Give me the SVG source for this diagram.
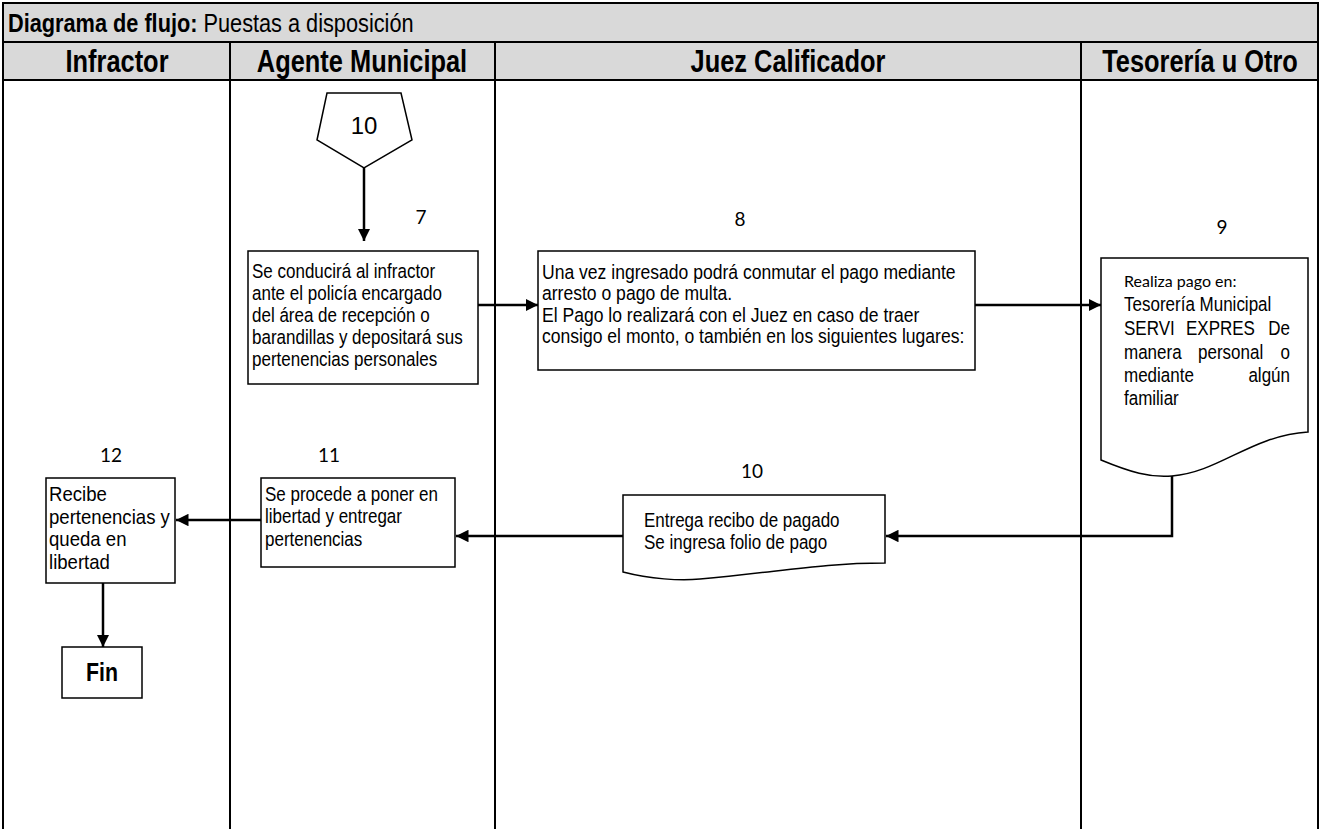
<svg xmlns="http://www.w3.org/2000/svg" width="1320" height="829" viewBox="0 0 1320 829">
<style>
.f{font-family:'Liberation Sans',Arial,sans-serif;fill:#000}
.hdr{font-size:31px;font-weight:bold;text-anchor:middle}
.b{font-size:19.5px}
.num{font-family:Lato,'Open Sans',sans-serif;font-size:19px;text-anchor:middle;fill:#000}
.cal{font-family:Lato,'Open Sans',sans-serif;font-size:16px;fill:#000}
.box{fill:#fff;stroke:#000;stroke-width:1.5}
.con{fill:none;stroke:#000;stroke-width:2.5}
.grid{stroke:#000;stroke-width:2;fill:none}
</style>
<defs>
<marker id="ah" viewBox="0 0 10 10" refX="10" refY="5" markerWidth="5" markerHeight="5" markerUnits="strokeWidth" orient="auto">
<path d="M0,0 L10,5 L0,10 Z" fill="#000"/>
</marker>
</defs>
<rect x="0" y="0" width="1320" height="829" fill="#fff"/>
<g id="frame">
<rect x="3" y="3" width="1315" height="77" fill="#d9d9d9"/>
<path class="grid" d="M3,829 V3 H1318 V829 M3,42 H1318 M3,80 H1318 M230,42 V829 M495,42 V829 M1081,42 V829"/>
<g transform="translate(8,0) scale(0.82,1)"><text class="f" x="0" y="32" font-size="26.5"><tspan font-weight="bold">Diagrama de flujo:</tspan> Puestas a disposición</text></g>
<g transform="translate(117,0) scale(0.82,1)"><text class="f hdr" x="0" y="72">Infractor</text></g>
<g transform="translate(362,0) scale(0.82,1)"><text class="f hdr" x="0" y="72">Agente Municipal</text></g>
<g transform="translate(788,0) scale(0.82,1)"><text class="f hdr" x="0" y="72">Juez Calificador</text></g>
<g transform="translate(1200,0) scale(0.82,1)"><text class="f hdr" x="0" y="72">Tesorería u Otro</text></g>
</g>
<g id="connectors">
<path class="con" d="M364,168 V241" marker-end="url(#ah)"/>
<path class="con" d="M478,305 H538" marker-end="url(#ah)"/>
<path class="con" d="M975,305 H1101" marker-end="url(#ah)"/>
<path class="con" d="M1172,470 V536 H886" marker-end="url(#ah)"/>
<path class="con" d="M623,536 H456" marker-end="url(#ah)"/>
<path class="con" d="M261,520 H176" marker-end="url(#ah)"/>
<path class="con" d="M103,583 V647" marker-end="url(#ah)"/>
</g>
<g id="n10start">
<polygon class="box" points="327,93 401,93 412,140 364,168 317,140"/>
<text class="f" x="364" y="134" style="font-size:24px;text-anchor:middle">10</text>
</g>
<g id="n7">
<text class="num" x="421" y="224">7</text>
<rect class="box" x="248" y="251" width="230" height="133"/>
<g transform="translate(252,0) scale(0.872,1)"><text class="f b"><tspan x="0" y="278">Se conducirá al infractor</tspan><tspan x="0" y="300">ante el policía encargado</tspan><tspan x="0" y="322">del área de recepción o</tspan><tspan x="0" y="344">barandillas y depositará sus</tspan><tspan x="0" y="366">pertenencias personales</tspan></text></g>
</g>
<g id="n8">
<text class="num" x="740" y="226">8</text>
<rect class="box" x="538" y="251" width="437" height="119"/>
<g transform="translate(542,0) scale(0.9,1)"><text class="f b"><tspan x="0" y="279">Una vez ingresado podrá conmutar el pago mediante</tspan><tspan x="0" y="300">arresto o pago de multa.</tspan><tspan x="0" y="322">El Pago lo realizará con el Juez en caso de traer</tspan><tspan x="0" y="343">consigo el monto, o también en los siguientes lugares:</tspan></text></g>
</g>
<g id="n9">
<text class="num" x="1222" y="234">9</text>
<path class="box" d="M1101,460 V258 H1308 V432 C1250,436 1220,472 1172,476 C1150,478 1130,472 1101,460 Z"/>
<text class="cal" x="1124" y="287">Realiza pago en:</text>
<g transform="translate(1124,0) scale(0.872,1)"><text class="f b" x="0" y="311">Tesorería Municipal</text></g>
<g transform="translate(1124,0) scale(0.872,1)"><text class="f b" x="0" y="335">SERVI</text></g>
<g transform="translate(1186,0) scale(0.872,1)"><text class="f b" x="0" y="335">EXPRES</text></g>
<g transform="translate(1290,0) scale(0.872,1)"><text class="f b" x="0" y="335" text-anchor="end">De</text></g>
<g transform="translate(1124,0) scale(0.872,1)"><text class="f b" x="0" y="359">manera</text></g>
<g transform="translate(1198,0) scale(0.872,1)"><text class="f b" x="0" y="359">personal</text></g>
<g transform="translate(1290,0) scale(0.872,1)"><text class="f b" x="0" y="359" text-anchor="end">o</text></g>
<g transform="translate(1124,0) scale(0.872,1)"><text class="f b" x="0" y="382">mediante</text></g>
<g transform="translate(1290,0) scale(0.872,1)"><text class="f b" x="0" y="382" text-anchor="end">algún</text></g>
<g transform="translate(1124,0) scale(0.872,1)"><text class="f b" x="0" y="405">familiar</text></g>
</g>
<g id="n10">
<text class="num" x="752" y="478">10</text>
<path class="box" d="M623,572 V495 H885 V563 C820,563 780,572 700,579 C680,581 650,579 623,572 Z"/>
<g transform="translate(644,0) scale(0.872,1)"><text class="f b"><tspan x="0" y="527">Entrega recibo de pagado</tspan><tspan x="0" y="549">Se ingresa folio de pago</tspan></text></g>
</g>
<g id="n11">
<text class="num" x="329" y="462">11</text>
<rect class="box" x="261" y="478" width="194" height="89"/>
<g transform="translate(265,0) scale(0.872,1)"><text class="f b"><tspan x="0" y="501">Se procede a poner en</tspan><tspan x="0" y="523">libertad y entregar</tspan><tspan x="0" y="546">pertenencias</tspan></text></g>
</g>
<g id="n12">
<text class="num" x="111" y="462">12</text>
<rect class="box" x="46" y="478" width="129" height="105"/>
<g transform="translate(49,0) scale(0.93,1)"><text class="f" font-size="20"><tspan x="0" y="501">Recibe</tspan><tspan x="0" y="524">pertenencias y</tspan><tspan x="0" y="546">queda en</tspan><tspan x="0" y="569">libertad</tspan></text></g>
</g>
<g id="fin">
<rect class="box" x="62" y="647" width="80" height="51"/>
<g transform="translate(102,0) scale(0.82,1)"><text class="f" x="0" y="681" font-size="26" font-weight="bold" text-anchor="middle">Fin</text></g>
</g>
</svg>
